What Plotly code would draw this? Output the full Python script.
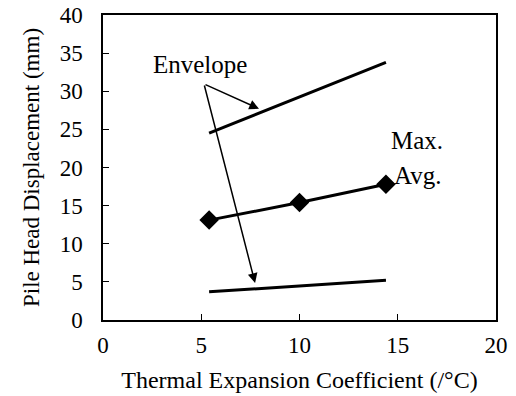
import plotly.graph_objects as go

# Thermal expansion coefficient (x) and pile head displacement (mm)
alpha = [5.4, 10.0, 14.4]
env_max = [24.5, 29.2, 33.8]
avg_disp = [13.1, 15.4, 17.8]
env_min = [3.7, 4.5, 5.2]

x_ticks = [0, 5, 10, 15, 20]
y_ticks = [0, 5, 10, 15, 20, 25, 30, 35, 40]

FONT = "Liberation Serif, Times New Roman, serif"

fig = go.Figure()
fig.add_trace(go.Scatter(x=alpha, y=env_max, mode="lines",
                         line=dict(color="black", width=3), showlegend=False))
fig.add_trace(go.Scatter(x=alpha, y=avg_disp, mode="lines+markers",
                         line=dict(color="black", width=3),
                         marker=dict(symbol="diamond", size=15, color="black"),
                         showlegend=False))
fig.add_trace(go.Scatter(x=alpha, y=env_min, mode="lines",
                         line=dict(color="black", width=3), showlegend=False))

# Label and arrows pointing at the envelope lines
tail = (5.14, 30.95)
for hx, hy in [(7.94, 27.7), (7.74, 4.85)]:
    fig.add_annotation(x=hx, y=hy, ax=tail[0], ay=tail[1],
                       xref="x", yref="y", axref="x", ayref="y",
                       text="", showarrow=True, arrowhead=2, arrowsize=1.3,
                       arrowwidth=1.5, arrowcolor="black")
fig.add_annotation(x=4.94, y=33.5, text="Envelope", showarrow=False,
                   font=dict(family=FONT, size=25, color="black"))
fig.add_annotation(x=16.0, y=23.6, text="Max.", showarrow=False,
                   font=dict(family=FONT, size=25, color="black"))
fig.add_annotation(x=16.0, y=19.0, text="Avg.", showarrow=False,
                   font=dict(family=FONT, size=25, color="black"))

fig.update_xaxes(range=[0, 20], tickvals=x_ticks, ticks="inside", ticklen=6,
                 tickwidth=1, tickcolor="black", showline=True, linecolor="black",
                 linewidth=1.5, mirror=True, showgrid=False, zeroline=False,
                 automargin=False, ticklabelstandoff=4,
                 tickfont=dict(family=FONT, size=23, color="black"),
                 title=dict(text="Thermal Expansion Coefficient (/°C)",
                            font=dict(family=FONT, size=24, color="black"),
                            standoff=14))
fig.update_yaxes(range=[0, 40], tickvals=y_ticks, ticks="inside", ticklen=6,
                 tickwidth=1, tickcolor="black", showline=True, linecolor="black",
                 linewidth=1.5, mirror=True, showgrid=False, zeroline=False,
                 automargin=False, ticklabelstandoff=14,
                 tickfont=dict(family=FONT, size=23, color="black"),
                 title=dict(text="Pile Head Displacement (mm)",
                            font=dict(family=FONT, size=23, color="black"),
                            standoff=14))

fig.update_layout(width=516, height=396, plot_bgcolor="white", paper_bgcolor="white",
                  margin=dict(l=103, r=20, t=15, b=76))

fig.write_html("out.html")
